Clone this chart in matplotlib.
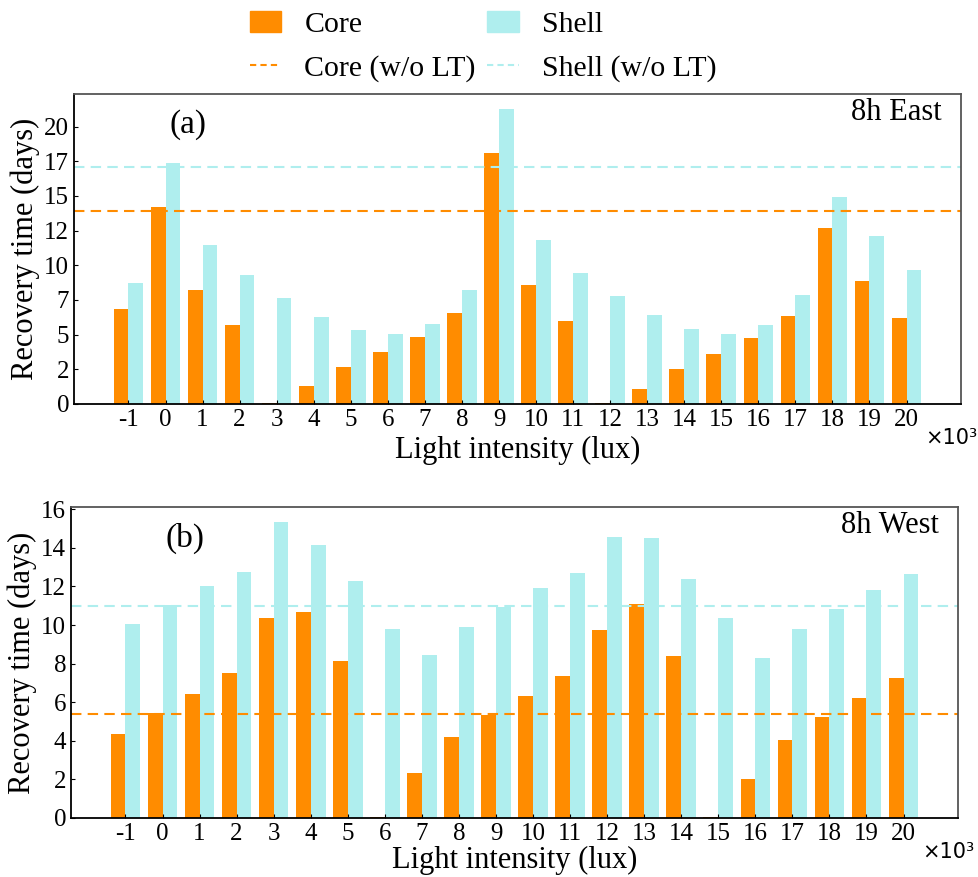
import numpy as np
import matplotlib
matplotlib.use("Agg")
import matplotlib.pyplot as plt
from matplotlib.patches import Patch
from matplotlib.lines import Line2D
from matplotlib.ticker import FixedLocator, FuncFormatter

plt.rcParams['font.family'] = ['Liberation Serif', 'DejaVu Serif']

# light intensity, x10^3 lux
lux = [-1, 0, 1, 2, 3, 4, 5, 6, 7, 8, 9, 10, 11, 12, 13, 14, 15, 16, 17, 18, 19, 20]

# 8h East
east_core = [6.85, 14.2, 8.22, 5.70, 0.05, 1.30, 2.67, 3.75, 4.83, 6.56, 18.1,
             8.58, 5.99, 0.05, 1.08, 2.52, 3.61, 4.76, 6.35, 12.69, 8.87, 6.20]
east_shell = [8.73, 17.38, 11.47, 9.30, 7.64, 6.27, 5.34, 5.05, 5.77, 8.22, 21.27,
              11.83, 9.45, 7.79, 6.42, 5.41, 5.05, 5.70, 7.86, 14.93, 12.12, 9.66]
east_core_nolt = 13.92
east_shell_nolt = 17.12

# 8h West
west_core = [4.34, 5.44, 6.41, 7.50, 10.35, 10.66, 8.12, 0.05, 2.32, 4.18, 5.32,
             6.31, 7.34, 9.73, 11.08, 8.38, 0.05, 2.00, 4.03, 5.22, 6.20, 7.24]
west_shell = [10.04, 11.04, 12.01, 12.73, 15.33, 14.13, 12.27, 9.78, 8.43, 9.88, 10.92,
              11.90, 12.68, 14.55, 14.50, 12.37, 10.35, 8.28, 9.78, 10.82, 11.80, 12.63]
west_core_nolt = 5.41
west_shell_nolt = 11.01

c_core = '#FF8C00'
c_shell = '#AFEEEE'
w = 0.4


def panel(ax, core, shell, core_nolt, shell_nolt, tag, title, yticks, fmt, xpad):
    x = np.arange(len(lux))
    ax.bar(x - w / 2, core, w, color=c_core)
    ax.bar(x + w / 2, shell, w, color=c_shell)
    ax.axhline(core_nolt, color=c_core, ls='--', lw=1.5, dashes=(5, 3))
    ax.axhline(shell_nolt, color=c_shell, ls='--', lw=1.5, dashes=(5, 3))
    ax.set_xlim(-1.47, len(lux) + 0.47)
    ax.set_xticks(x)
    ax.set_xticklabels([str(v) for v in lux])
    ax.yaxis.set_major_locator(FixedLocator(yticks))
    ax.yaxis.set_major_formatter(FuncFormatter(fmt))
    ax.tick_params(direction='in', length=3, labelsize=18)
    ax.set_xlabel('Light intensity (lux)', fontsize=22, labelpad=xpad)
    ax.set_ylabel('Recovery time (days)', fontsize=22, labelpad=3)
    ax.text(0.128, 0.9, tag, transform=ax.transAxes, fontsize=24,
            ha='center', va='center')
    ax.text(0.978, 0.94, title, transform=ax.transAxes, fontsize=22,
            ha='right', va='center')
    ax.text(1.018, -0.11, '×10³', transform=ax.transAxes, fontsize=15,
            ha='right', va='center', family='DejaVu Sans')
    for s in ['top', 'right']:
        ax.spines[s].set_color('#555555')
    for s in ax.spines.values():
        s.set_linewidth(1.3)


fig = plt.figure(figsize=(9.79, 8.77), dpi=100)
ax1 = fig.add_axes([74 / 979, 1 - 404 / 877, 887 / 979, 310 / 877])
ax2 = fig.add_axes([71 / 979, 1 - 818 / 877, 887 / 979, 311 / 877])

panel(ax1, east_core, east_shell, east_core_nolt, east_shell_nolt, '(a)', '8h East',
      np.arange(0, 21, 2.5), lambda v, p: '%d' % v, 4)
ax1.set_ylim(0, 22.35)
panel(ax2, west_core, west_shell, west_core_nolt, west_shell_nolt, '(b)', '8h West',
      np.arange(0, 17, 2), lambda v, p: '%d' % v, 1)
ax2.set_ylim(0, 16.12)

handles = [Patch(color=c_core), Line2D([], [], color=c_core, ls='--', lw=1.5, dashes=(3, 2)),
           Patch(color=c_shell), Line2D([], [], color=c_shell, ls='--', lw=1.5, dashes=(3, 2))]
labels = ['Core', 'Core (w/o LT)', 'Shell', 'Shell (w/o LT)']
fig.legend(handles, labels, ncol=2, loc='upper center', bbox_to_anchor=(0.4934, 1.018),
           frameon=False, fontsize=21.5, handlelength=1.07, columnspacing=0.37,
           handletextpad=0.77, labelspacing=0.55)

fig.savefig('out.png', dpi=100)
